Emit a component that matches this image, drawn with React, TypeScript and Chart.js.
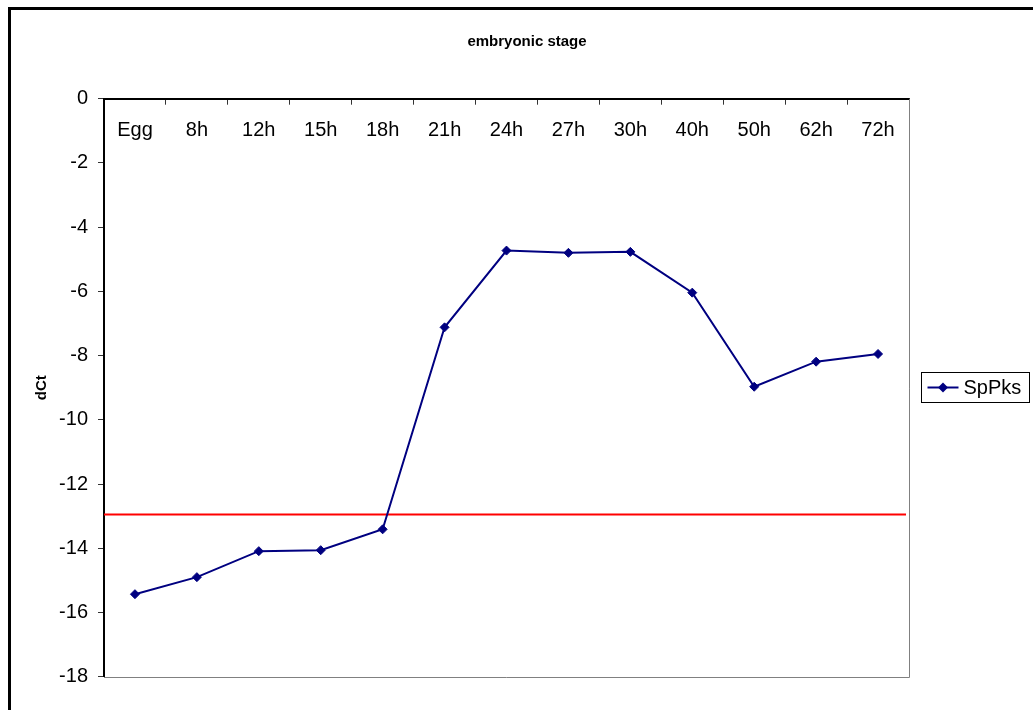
import React, { useEffect, useRef } from "react";
import { Chart, registerables } from "chart.js";

Chart.register(...registerables);

// Sampling stages along the category axis
const stages = ["Egg", "8h", "12h", "15h", "18h", "21h", "24h", "27h", "30h", "40h", "50h", "62h", "72h"];
// dCt values of SpPks at each stage
const spPksValues = [-15.43, -14.9, -14.09, -14.06, -13.41, -7.12, -4.73, -4.8, -4.77, -6.04, -8.97, -8.19, -7.95];
// Detection threshold drawn as a red rule across the plot
const threshold = -12.95;
// Value axis range and step
const yMin = -18;
const yMax = 0;
const yStep = 2;

const chartTitle = "embryonic stage";
const yAxisTitle = "dCt";
const seriesName = "SpPks";

const FONT = "'Liberation Sans', Arial, Helvetica, sans-serif";
const NAVY = "#000080";

const decorPlugin = {
  id: "decor",
  beforeDraw(chart: any) {
    const ctx = chart.ctx;
    ctx.save();
    // outer frame (left and top edges)
    ctx.strokeStyle = "#000";
    ctx.lineWidth = 3;
    ctx.beginPath();
    ctx.moveTo(9.5, 710);
    ctx.lineTo(9.5, 8.5);
    ctx.lineTo(1033, 8.5);
    ctx.stroke();
    ctx.restore();
  },
  beforeDatasetsDraw(chart: any) {
    const { ctx, chartArea, scales } = chart;
    ctx.save();
    // plot area border on the right and bottom
    ctx.strokeStyle = "#808080";
    ctx.lineWidth = 1;
    ctx.beginPath();
    ctx.moveTo(chartArea.left, Math.round(chartArea.bottom) + 0.5);
    ctx.lineTo(Math.round(chartArea.right) + 0.5, Math.round(chartArea.bottom) + 0.5);
    ctx.lineTo(Math.round(chartArea.right) + 0.5, chartArea.top);
    ctx.stroke();
    // threshold rule
    const ty = scales.y.getPixelForValue(threshold);
    ctx.strokeStyle = "#FF0000";
    ctx.lineWidth = 2;
    ctx.beginPath();
    ctx.moveTo(chartArea.left, ty);
    ctx.lineTo(chartArea.right - 3, ty);
    ctx.stroke();
    ctx.restore();
  },
  afterDraw(chart: any) {
    const ctx = chart.ctx;
    ctx.save();
    // chart title
    ctx.fillStyle = "#000";
    ctx.font = `bold 15px ${FONT}`;
    ctx.textAlign = "center";
    ctx.textBaseline = "middle";
    ctx.fillText(chartTitle, 527, 42);

    // legend
    const ds = chart.data.datasets[0];
    const bx = 921.5, by = 372.5, bw = 108, bh = 30;
    ctx.strokeStyle = "#000";
    ctx.lineWidth = 1;
    ctx.strokeRect(bx, by, bw, bh);
    const cy = by + bh / 2;
    ctx.strokeStyle = ds.borderColor;
    ctx.lineWidth = 2;
    ctx.beginPath();
    ctx.moveTo(bx + 6, cy);
    ctx.lineTo(bx + 37, cy);
    ctx.stroke();
    ctx.fillStyle = ds.backgroundColor;
    const mx = bx + 21.5, r = 5;
    ctx.beginPath();
    ctx.moveTo(mx, cy - r);
    ctx.lineTo(mx + r, cy);
    ctx.lineTo(mx, cy + r);
    ctx.lineTo(mx - r, cy);
    ctx.closePath();
    ctx.fill();
    ctx.fillStyle = "#000";
    ctx.font = `20px ${FONT}`;
    ctx.textAlign = "left";
    ctx.textBaseline = "middle";
    ctx.fillText(ds.label, bx + 42, cy + 1);
    ctx.restore();
  },
};

export default function App() {
  const canvasRef = useRef<HTMLCanvasElement | null>(null);

  useEffect(() => {
    if (!canvasRef.current) return;
    const chart = new Chart(canvasRef.current, {
      type: "line",
      data: {
        labels: stages,
        datasets: [
          {
            label: seriesName,
            data: spPksValues,
            borderColor: NAVY,
            backgroundColor: NAVY,
            borderWidth: 2,
            pointStyle: "rectRot",
            pointRadius: 4.5,
            pointBorderWidth: 1,
            pointBorderColor: NAVY,
            pointBackgroundColor: NAVY,
            tension: 0,
            fill: false,
          },
        ],
      },
      options: {
        responsive: false,
        animation: false,
        devicePixelRatio: 1,
        layout: { padding: { left: 0, top: 0, right: 124, bottom: 33.3 } },
        plugins: {
          legend: { display: false },
          title: { display: false },
          tooltip: { enabled: false },
        },
        scales: {
          x: {
            type: "category",
            position: "top",
            offset: true,
            afterFit: (scale: any) => {
              scale.height = 98.7;
            },
            grid: {
              display: true,
              drawOnChartArea: false,
              drawTicks: true,
              offset: true,
              tickLength: -6,
              color: "#333",
              lineWidth: 1,
            },
            border: { display: true, color: "#000", width: 2 },
            ticks: {
              autoSkip: false,
              maxRotation: 0,
              minRotation: 0,
              mirror: true,
              padding: 19.5,
              color: "#000",
              font: { family: FONT, size: 20 },
            },
          },
          y: {
            type: "linear",
            position: "left",
            min: yMin,
            max: yMax,
            afterFit: (scale: any) => {
              scale.width = 104;
            },
            grid: {
              display: true,
              drawOnChartArea: false,
              drawTicks: true,
              tickLength: 6,
              color: "#333",
              lineWidth: 1,
            },
            border: { display: true, color: "#000", width: 2 },
            ticks: {
              stepSize: yStep,
              padding: 10,
              color: "#000",
              font: { family: FONT, size: 20 },
            },
            title: {
              display: true,
              text: yAxisTitle,
              color: "#000",
              font: { family: FONT, size: 15, weight: "bold" },
              padding: { top: 32.5, bottom: 0 },
            },
          },
        },
      },
      plugins: [decorPlugin],
    } as any);
    return () => chart.destroy();
  }, []);

  return (
    <div style={{ position: "fixed", left: 0, top: 0, width: 1033, height: 710, background: "#fff" }}>
      <canvas ref={canvasRef} width={1033} height={710} style={{ width: 1033, height: 710, display: "block" }} />
    </div>
  );
}
